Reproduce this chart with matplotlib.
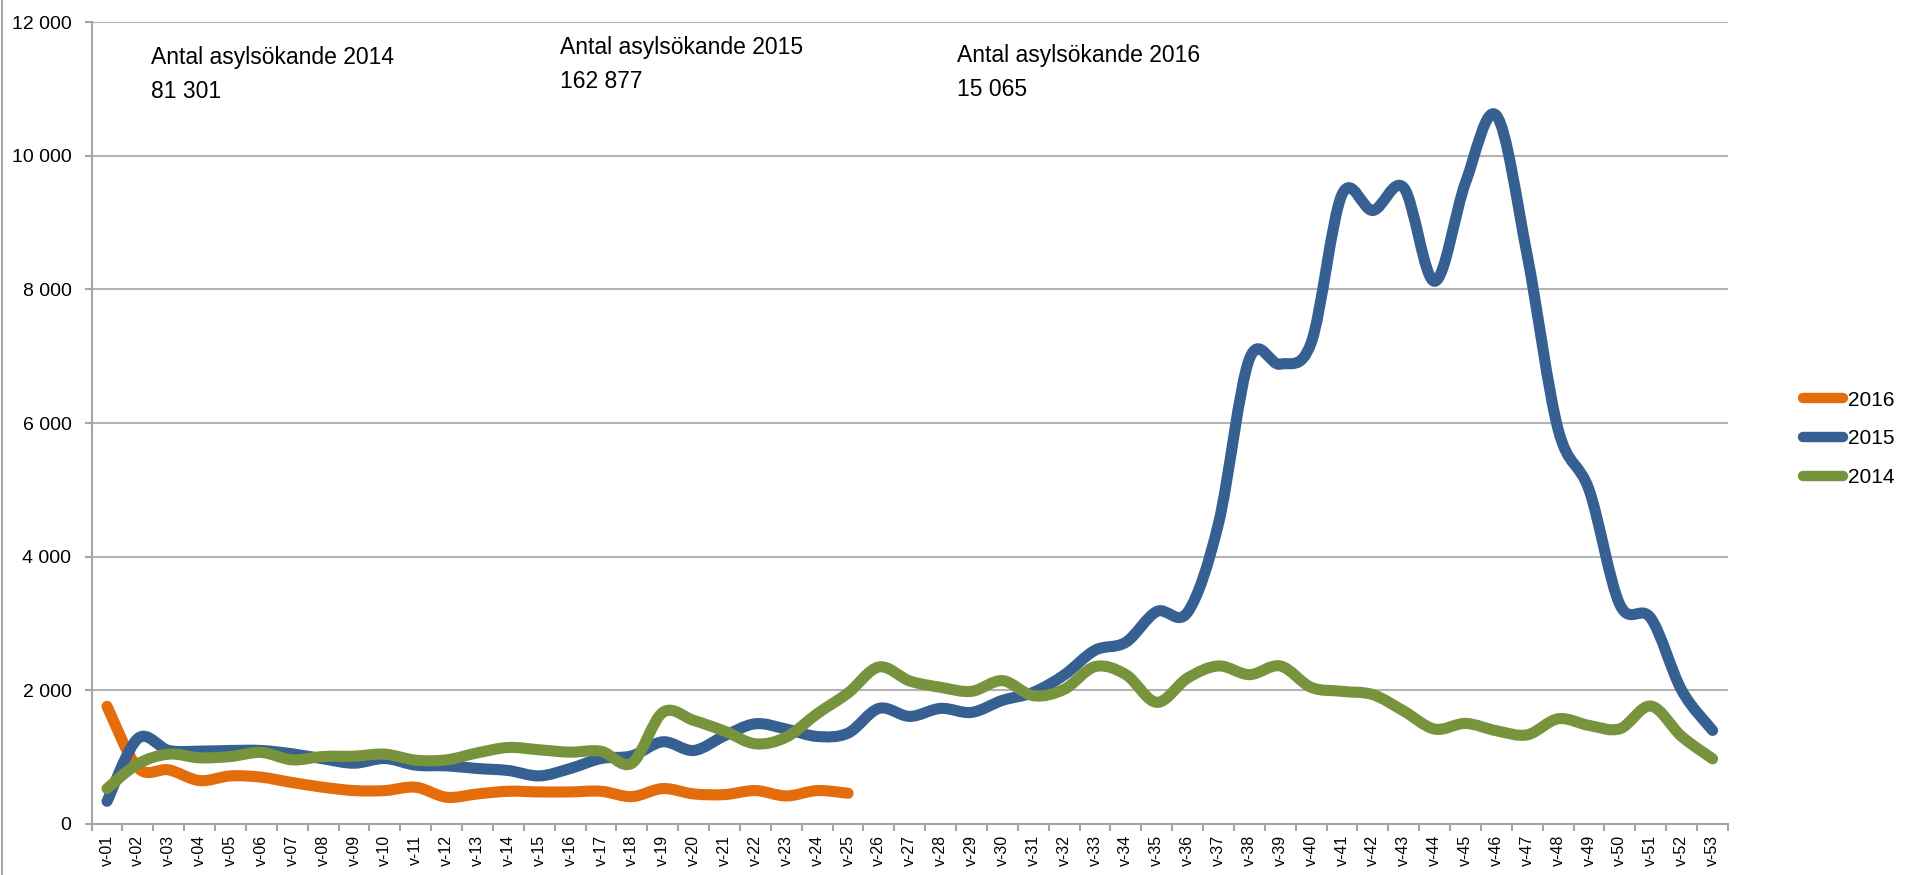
import numpy as np
import matplotlib.pyplot as plt
from matplotlib.path import Path
from matplotlib.patches import PathPatch
from matplotlib.lines import Line2D
from matplotlib.ticker import FuncFormatter, FixedLocator

# weekly asylum seekers
weeks = ["v-%02d" % i for i in range(1, 54)]

asyl_2016 = [1760, 840, 810, 650, 720, 700, 620, 550, 500, 500,
             550, 400, 450, 490, 480, 480, 490, 410, 530, 450,
             440, 500, 420, 500, 460]

asyl_2015 = [340, 1280, 1100, 1090, 1100, 1100, 1050, 975, 910, 980,
             880, 870, 830, 800, 720, 830, 980, 1020, 1230, 1100,
             1320, 1500, 1420, 1310, 1360, 1730, 1610, 1730, 1670, 1850,
             1970, 2230, 2600, 2720, 3180, 3170, 4500, 6960, 6880, 7200,
             9420, 9180, 9520, 8120, 9600, 10600, 8500, 5900, 5000, 3280,
             3080, 2000, 1400]

asyl_2014 = [530, 900, 1045, 990, 1010, 1070, 960, 1010, 1015, 1045,
             955, 960, 1065, 1145, 1110, 1075, 1088, 910, 1670, 1550,
             1390, 1200, 1300, 1650, 1960, 2350, 2140, 2045, 1985, 2145,
             1920, 2015, 2355, 2235, 1820, 2185, 2365, 2235, 2365, 2045,
             1985, 1935, 1690, 1420, 1505, 1395, 1335, 1575, 1475, 1425,
             1765, 1310, 975]

series_names = ["2016", "2015", "2014"]
series_colors = ["#E46C0A", "#376092", "#77933C"]

totals = [("Antal asylsökande 2014", "81 301"),
          ("Antal asylsökande 2015", "162 877"),
          ("Antal asylsökande 2016", "15 065")]

W, H = 1905, 875
plt.rcParams['font.family'] = ['Liberation Sans', 'DejaVu Sans']

fig = plt.figure(figsize=(W / 100, H / 100), dpi=100)
ax = fig.add_axes([91.6 / W, 1 - 824 / H, (1728 - 91.6) / W, (824 - 22) / H])


def smooth_path(xs, ys):
    # excel-like smoothed line: cubic bezier through every point
    pts = np.column_stack([xs, ys]).astype(float)
    n = len(pts)
    verts = [pts[0]]
    codes = [Path.MOVETO]
    for i in range(n - 1):
        p0 = pts[max(i - 1, 0)]
        p1 = pts[i]
        p2 = pts[i + 1]
        p3 = pts[min(i + 2, n - 1)]
        c1 = p1 + (p2 - p0) / 6.0
        c2 = p2 - (p3 - p1) / 6.0
        verts += [c1, c2, p2]
        codes += [Path.CURVE4] * 3
    return Path(verts, codes)


grid_col = "#B4B4B4"
axis_col = "#A6A6A6"

ax.set_xlim(0.5, 53.5)
ax.set_ylim(0, 12000)
ax.set_yticks(range(0, 12001, 2000))
ax.yaxis.set_major_formatter(FuncFormatter(lambda v, p: "{:,}".format(int(v)).replace(",", " ")))
ax.grid(axis='y', color=grid_col, linewidth=1.5)
ax.set_axisbelow(True)

# boundary ticks between the weeks, labels centred on the weeks
ax.xaxis.set_major_locator(FixedLocator(np.arange(0.5, 54, 1.0)))
ax.xaxis.set_major_formatter(FuncFormatter(lambda v, p: ""))
ax.xaxis.set_minor_locator(FixedLocator(np.arange(1, 54)))
ax.set_xticklabels(weeks, minor=True, rotation=90, fontsize=11.5)
ax.tick_params(axis='x', which='major', length=5, width=1.5, color=axis_col)
ax.tick_params(axis='x', which='minor', length=0, pad=8)
ax.tick_params(axis='y', length=5, width=1.5, color=axis_col, labelsize=14, pad=9.5)

for side in ['top', 'right']:
    ax.spines[side].set_visible(False)
for side in ['left', 'bottom']:
    ax.spines[side].set_color(axis_col)
    ax.spines[side].set_linewidth(1.5)

all_series = [asyl_2016, asyl_2015, asyl_2014]
handles = []
for k, (vals, name, col) in enumerate(zip(all_series, series_names, series_colors)):
    xs = np.arange(1, len(vals) + 1)
    patch = PathPatch(smooth_path(xs, vals), fill=False, edgecolor=col,
                      linewidth=8, capstyle='round', joinstyle='round', zorder=2 + k)
    ax.add_patch(patch)
    handles.append(Line2D([], [], color=col, linewidth=7.5, solid_capstyle='round'))

fig.legend(handles, series_names, loc='center left', frameon=False,
           bbox_to_anchor=(1793 / W, 1 - 439 / H), fontsize=15,
           handlelength=1.9, handletextpad=0.25, labelspacing=0.95, borderpad=0)

# totals written inside the plot area
text_pos = [(151, 46), (560, 36), (957, 44)]
for (title, total), (px, py) in zip(totals, text_pos):
    fig.text(px / W, 1 - py / H, title, fontsize=16.5, va='top', ha='left')
    fig.text(px / W, 1 - (py + 34) / H, total, fontsize=16.5, va='top', ha='left')

# thin border at the left edge of the picture
fig.add_artist(Line2D([2 / W, 2 / W], [0, 1], transform=fig.transFigure,
                      color=axis_col, linewidth=1.5))

fig.savefig("out.png", dpi=100)
